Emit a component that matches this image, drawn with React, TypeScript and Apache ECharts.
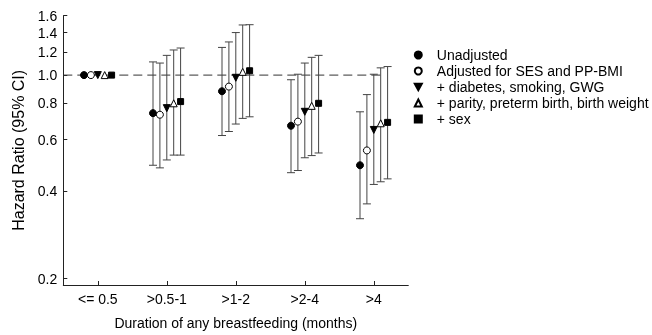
import React, { useEffect, useRef } from "react";
import * as echarts from "echarts";

const categories = ["<= 0.5", ">0.5-1", ">1-2", ">2-4", ">4"];
const seriesNames = [
  "Unadjusted",
  "Adjusted for SES and PP-BMI",
  "+ diabetes, smoking, GWG",
  "+ parity, preterm birth, birth weight",
  "+ sex",
];
const yTicks = [0.2, 0.4, 0.6, 0.8, 1.0, 1.2, 1.4, 1.6];

const unadjHR = [1.0, 0.74, 0.88, 0.67, 0.49];
const unadjLo = [null, 0.49, 0.62, 0.462, 0.321];
const unadjHi = [null, 1.11, 1.245, 0.964, 0.748];

const sesHR = [1.0, 0.731, 0.913, 0.692, 0.551];
const sesLo = [null, 0.48, 0.64, 0.47, 0.361];
const sesHi = [null, 1.10, 1.30, 1.007, 0.857];

const diabHR = [1.0, 0.77, 0.979, 0.748, 0.648];
const diabLo = [null, 0.511, 0.679, 0.52, 0.421];
const diabHi = [null, 1.169, 1.40, 1.10, 1.007];

const parityHR = [1.0, 0.80, 1.026, 0.784, 0.683];
const parityLo = [null, 0.531, 0.71, 0.529, 0.43];
const parityHi = [null, 1.22, 1.487, 1.151, 1.059];

const sexHR = [1.0, 0.811, 1.035, 0.80, 0.688];
const sexLo = [null, 0.531, 0.719, 0.54, 0.44];
const sexHi = [null, 1.239, 1.49, 1.169, 1.07];

const referenceHR = 1.0;
const yMin = 0.19;
const yMax = 1.6;

const allHR = [unadjHR, sesHR, diabHR, parityHR, sexHR];
const allLo = [unadjLo, sesLo, diabLo, parityLo, sexLo];
const allHi = [unadjHi, sesHi, diabHi, parityHi, sexHi];

const FONT = "'Liberation Sans', Arial, Helvetica, sans-serif";
const offsets = [-0.2, -0.1, 0, 0.1, 0.2];
const symbols = ["circle", "circle", "triangle", "triangle", "rect"];
const rotations = [0, 0, 180, 0, 0];
const fills = ["#000", "#fff", "#000", "#fff", "#000"];
const sizes = [7, 7, 7, 7, 6];
const legendIcons = ["circle", "circle", "path://M0,0L10,0L5,9Z", "triangle", "rect"];

const lg = (v: number) => Math.log10(v);

export default function App() {
  const ref = useRef<HTMLDivElement>(null);
  useEffect(() => {
    if (!ref.current) return;
    const chart = echarts.init(ref.current, null, { renderer: "svg" });

    const errSeries = allHR.map((hr, s) => ({
      type: "custom",
      name: seriesNames[s] + " CI",
      z: 2,
      silent: true,
      renderItem: (params: any, api: any) => {
        const x = api.value(0);
        const pLo = api.coord([x, api.value(1)]);
        const pHi = api.coord([x, api.value(2)]);
        const cap = 4;
        const st = { stroke: "#444", lineWidth: 1 };
        return {
          type: "group",
          children: [
            { type: "line", shape: { x1: pLo[0], y1: pLo[1], x2: pHi[0], y2: pHi[1] }, style: st },
            { type: "line", shape: { x1: pLo[0] - cap, y1: pLo[1], x2: pLo[0] + cap, y2: pLo[1] }, style: st },
            { type: "line", shape: { x1: pHi[0] - cap, y1: pHi[1], x2: pHi[0] + cap, y2: pHi[1] }, style: st },
          ],
        };
      },
      data: hr
        .map((_, i) => (allLo[s][i] == null ? null : [i + offsets[s], lg(allLo[s][i] as number), lg(allHi[s][i] as number)]))
        .filter((d) => d !== null),
    }));

    const pointSeries = allHR.map((hr, s) => ({
      type: "scatter",
      name: seriesNames[s],
      z: 5,
      symbol: symbols[s],
      symbolRotate: rotations[s],
      symbolSize: sizes[s],
      itemStyle: { color: fills[s], borderColor: "#000", borderWidth: 1, opacity: 1 },
      data: hr.map((v, i) => [i + offsets[s], lg(v)]),
    }));

    chart.setOption({
      animation: false,
      grid: { left: 63.3, right: 243.7, top: 15.7, bottom: 47.7 },
      legend: {
        orient: "vertical",
        left: 408.8,
        top: 43,
        itemWidth: 7,
        itemHeight: 7,
        itemGap: 2,
        selectedMode: false,
        textStyle: { fontSize: 14, color: "#000", fontFamily: FONT, padding: [0, 0, 0, 10] },
        data: seriesNames.map((n, i) => ({ name: n, icon: legendIcons[i] })),
      },
      xAxis: {
        type: "value",
        min: -0.5,
        max: 4.5,
        splitLine: { show: false },
        axisLine: { onZero: false, lineStyle: { color: "#222", width: 1 } },
        axisTick: { inside: true, length: 4, lineStyle: { color: "#222" }, customValues: categories.map((_, i) => i) },
        axisLabel: {
          customValues: categories.map((_, i) => i),
          formatter: (v: number) => categories[Math.round(v)] ?? "",
          fontSize: 14,
          color: "#000",
          fontFamily: FONT,
          margin: 7,
        },
        name: "Duration of any breastfeeding (months)",
        nameLocation: "middle",
        nameGap: 31,
        nameTextStyle: { fontSize: 14, color: "#000", fontFamily: FONT },
      },
      yAxis: {
        type: "value",
        min: lg(yMin),
        max: lg(yMax),
        splitLine: { show: false },
        axisLine: { show: true, onZero: false, lineStyle: { color: "#222", width: 1 } },
        axisTick: { show: true, inside: true, length: 4, lineStyle: { color: "#222" }, customValues: yTicks.map(lg) },
        axisLabel: {
          customValues: yTicks.map(lg),
          formatter: (v: number) => Math.pow(10, v).toFixed(1),
          fontSize: 14,
          color: "#000",
          fontFamily: FONT,
          margin: 6,
        },
        name: "Hazard Ratio (95% CI)",
        nameLocation: "middle",
        nameRotate: 90,
        nameGap: 35,
        nameTextStyle: { fontSize: 16, color: "#000", fontFamily: FONT },
      },
      series: [
        {
          type: "line",
          name: "reference",
          z: 1,
          silent: true,
          symbol: "none",
          lineStyle: { color: "#333", width: 1, type: [9, 5] },
          data: [
            [-0.5, lg(referenceHR)],
            [4.16, lg(referenceHR)],
          ],
        },
        ...errSeries,
        ...pointSeries,
      ],
    });
    return () => chart.dispose();
  }, []);
  return <div ref={ref} style={{ position: "fixed", left: 0, top: 0, width: 652, height: 335 }} />;
}
